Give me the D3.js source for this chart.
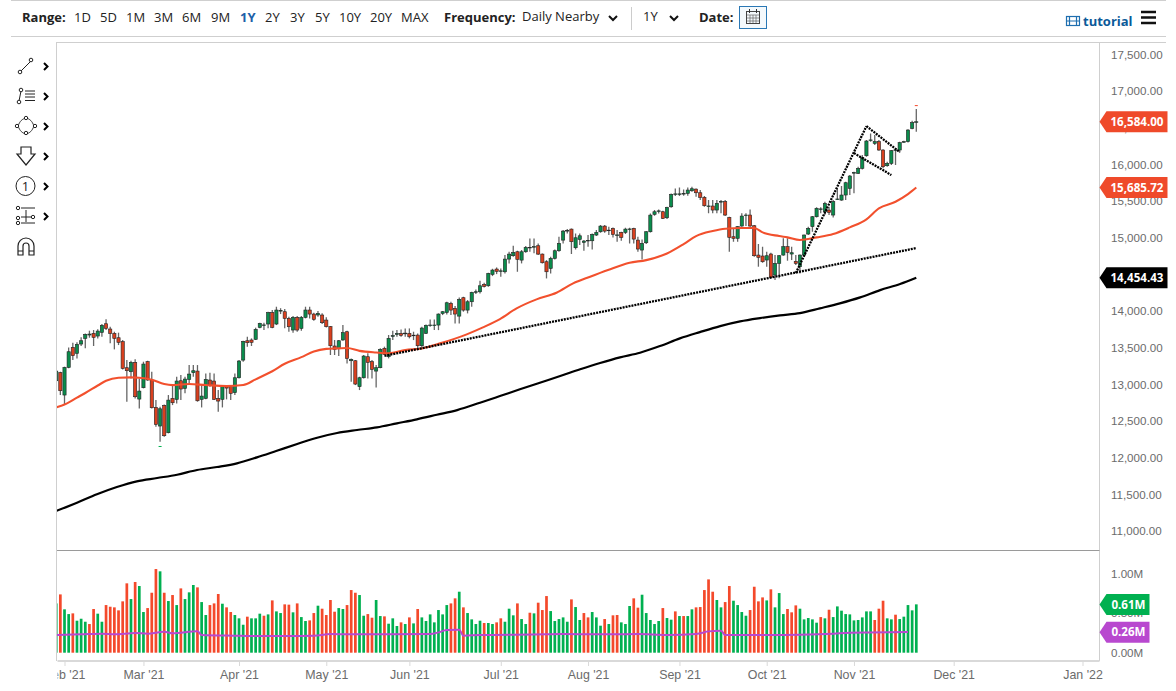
<!DOCTYPE html>
<html>
<head>
<meta charset="utf-8">
<script src="https://cdn.jsdelivr.net/npm/d3@7/dist/d3.min.js"></script>
<style>
  html, body { margin: 0; padding: 0; background: #fff; }
  svg { display: block; font-family: "Open Sans", "Noto Sans", sans-serif; }
  .axis text { fill: #6b6b6b; font-size: 11.6px; }
  .axis path, .axis line { stroke: #d9d9d9; }
  .months text { font-size: 12.4px; }
</style>
</head>
<body>
<svg id="chart" width="1176" height="691"></svg>
<script>
// daily candles, [open, high, low, close]
var ohlc = [
  [13050,13196,13041,13182],[13160,13173,12855,12914],[12855,13242,12732,13232],[13232,13505,13219,13446],[13505,13569,13332,13392],
  [13424,13574,13355,13546],[13551,13642,13524,13596],[13628,13696,13492,13683],[13674,13733,13637,13687],[13696,13742,13524,13642],
  [13660,13751,13628,13728],[13710,13824,13651,13806],[13828,13888,13742,13765],[13756,13787,13560,13696],[13696,13719,13478,13628],
  [13637,13706,13537,13574],[13583,13606,13205,13219],[13228,13332,12764,13187],[13173,13323,13082,13301],[13301,13342,12809,12832],
  [12800,13082,12673,12909],[12955,13310,12946,13278],[13310,13323,13050,13060],[13060,13173,12673,12682],[12686,12786,12422,12454],
  [12432,12695,12218,12668],[12714,12727,12286,12300],[12341,12855,12332,12786],[12809,12991,12718,12750],[12796,13105,12741,13046],
  [13050,13128,12786,12937],[12946,13105,12878,13073],[13069,13264,12991,13141],[13160,13264,13105,13187],[13182,13264,12764,12777],
  [12796,12991,12686,12841],[12809,13150,12796,13069],[13060,13160,12969,12991],[13046,13150,12787,12796],[12809,12923,12627,12773],
  [12796,12991,12686,12969],[12978,12991,12796,12950],[12969,12978,12786,12878],[12887,13150,12855,13091],[13091,13332,13082,13319],
  [13332,13596,13310,13587],[13596,13651,13515,13569],[13606,13628,13524,13574],[13615,13774,13606,13751],[13778,13842,13765,13833],
  [13808,13842,13742,13812],[13824,13992,13765,13979],[13979,14015,13765,13778],[13824,14060,13810,14015],[14000,14040,13960,14010],
  [13992,14030,13765,13901],[13901,13924,13720,13787],[13742,13933,13706,13915],[13915,13933,13719,13742],[13765,13933,13733,13915],
  [13915,14060,13901,14015],[14015,14060,13901,13960],[13960,13979,13869,13888],[13947,14001,13924,13970],[13947,13970,13824,13842],
  [13878,13915,13778,13788],[13788,13797,13401,13528],[13524,13606,13401,13478],[13492,13606,13387,13596],[13606,13810,13596,13706],
  [13719,13733,13287,13355],[13323,13355,13037,13342],[13323,13332,12991,13005],[12969,13105,12923,13091],[13091,13401,13082,13387],
  [13378,13424,13082,13301],[13310,13332,13082,13205],[13182,13264,12959,13228],[13228,13492,13219,13478],[13492,13515,13401,13410],
  [13378,13674,13355,13628],[13655,13732,13605,13665],[13682,13741,13650,13696],[13696,13750,13650,13669],[13690,13764,13650,13700],
  [13696,13764,13628,13650],[13668,13719,13605,13672],[13673,13696,13491,13528],[13528,13787,13491,13769],[13696,13819,13687,13805],
  [13805,13887,13787,13810],[13805,13887,13741,13810],[13810,13969,13741,13960],[13969,14001,13946,13992],[13982,14128,13955,14114],
  [14105,14128,13946,14014],[14037,14069,13832,13960],[13932,14187,13832,14160],[14183,14196,13992,14014],[14014,14151,13969,14128],
  [14128,14264,14060,14255],[14260,14296,14233,14265],[14264,14415,14242,14346],[14364,14387,14324,14337],[14346,14524,14333,14515],
  [14501,14578,14478,14560],[14574,14596,14505,14542],[14545,14583,14469,14550],[14537,14765,14515,14710],[14710,14810,14651,14778],
  [14756,14892,14742,14801],[14810,14824,14537,14706],[14696,14833,14651,14810],[14810,14887,14797,14869],[14865,14992,14810,14870],
  [14875,14992,14788,14880],[14892,14924,14765,14778],[14778,14787,14651,14660],[14674,14696,14446,14537],[14583,14742,14515,14719],
  [14719,14842,14706,14824],[14824,15015,14810,14924],[14969,15106,14924,15092],[15095,15119,15060,15100],[15119,15128,14778,14947],
  [14865,15060,14842,15001],[14978,15060,14901,15028],[14938,14969,14824,14956],[14960,15038,14878,14965],[14960,15060,14842,15047],
  [15038,15106,15024,15074],[15083,15174,15069,15160],[15160,15174,15069,15092],[15100,15151,15038,15105],[15128,15142,15006,15047],
  [15035,15106,14947,15040],[15074,15083,14960,15006],[15074,15138,15051,15119],[15117,15138,14924,15121],[15128,15138,14924,14983],
  [14969,15015,14810,14847],[14833,14978,14706,14924],[14933,15092,14915,15083],[15083,15333,15074,15310],[15320,15379,15301,15356],
  [15363,15388,15333,15368],[15356,15370,15256,15265],[15274,15424,15256,15415],[15424,15606,15410,15592],[15595,15674,15570,15600],
  [15595,15688,15570,15600],[15600,15661,15574,15605],[15606,15688,15574,15652],[15642,15697,15629,15670],[15665,15674,15561,15615],
  [15615,15652,15515,15552],[15552,15570,15424,15438],[15430,15515,15335,15435],[15434,15515,15335,15379],[15379,15515,15334,15470],
  [15490,15515,15334,15495],[15493,15515,15297,15311],[15279,15288,14811,15006],[15015,15129,14947,14993],[14993,15161,14947,15152],
  [15161,15334,15152,15297],[15307,15334,15161,15311],[15311,15388,15152,15161],[15165,15175,14742,14756],[14765,14915,14606,14733],
  [14752,14879,14660,14674],[14697,14811,14606,14756],[14779,14797,14447,14460],[14492,14765,14424,14652],[14652,14765,14447,14756],
  [14765,14993,14756,14879],[14879,14993,14688,14802],[14779,14879,14697,14797],[14679,14765,14629,14652],[14606,14774,14515,14765],
  [14765,15047,14742,15038],[15052,15152,15038,15129],[15152,15297,15084,15288],[15288,15416,15279,15402],[15390,15416,15334,15395],
  [15356,15493,15311,15470],[15379,15425,15311,15347],[15311,15515,15279,15493],[15525,15675,15515,15530],[15515,15707,15506,15584],
  [15584,15766,15515,15752],[15675,15857,15584,15843],[15885,15902,15607,15890],[15880,15970,15870,15948],[15948,16130,15934,16098],
  [16120,16334,16107,16321],[16332,16425,16312,16336],[16289,16402,16266,16312],[16312,16334,16189,16198],[16198,16207,15948,15970],
  [15984,16039,15970,16016],[16016,16198,15993,16189],[16195,16220,15993,16200],[16198,16312,16161,16298],[16308,16325,16298,16312],
  [16312,16480,16302,16471],[16493,16598,16480,16571],[16584,16757,16448,16584]
];

// volume in millions per candle
var volumes = [
  .624,.738,.549,.489,.498,.405,.430,.392,.363,.553,.494,.392,.603,.582,.574,.536,.650,.878,.679,.895,
  .844,.515,.565,.759,1.059,1.030,.759,.654,.730,.603,.814,.679,.764,.857,.827,.641,.477,.603,.624,.743,
  .620,.574,.515,.477,.435,.354,.456,.435,.435,.494,.468,.485,.662,.523,.502,.612,.608,.511,.624,.451,
  .401,.409,.502,.595,.557,.477,.667,.519,.565,.553,.603,.793,.759,.730,.468,.489,.443,.667,.464,.460,
  .367,.435,.338,.384,.363,.447,.371,.553,.447,.401,.485,.384,.540,.485,.603,.624,.688,.772,.574,.502,
  .422,.363,.405,.376,.376,.363,.384,.435,.392,.557,.473,.624,.426,.363,.506,.498,.633,.540,.717,.527,
  .401,.426,.447,.392,.675,.578,.414,.502,.447,.515,.447,.342,.426,.363,.473,.477,.384,.363,.591,.688,
  .570,.734,.502,.414,.363,.401,.565,.439,.418,.523,.464,.464,.464,.549,.574,.578,.793,.928,.772,.667,
  .574,.641,.844,.658,.603,.515,.468,.540,.835,.650,.700,.662,.802,.574,.755,.489,.553,.511,.599,.557,
  .422,.439,.422,.380,.451,.435,.544,.451,.586,.532,.489,.485,.409,.414,.447,.523,.523,.414,.557,.658,
  .435,.422,.481,.426,.456,.603,.536,.612
];
var volDirs = ("grggrgggrr" + "ggrrrrrrgr" + "ggrrrgrgrg" + "rgggrggrrr" + "grrgggrggg" +
               "rgrggrrgrg" + "grrgrrrrgg" + "rrrggrrggr" + "gggrgrgrgg" + "gggggrrgrg" +
               "gggrggrrgg" + "grggrgrrrg" + "ggggrggrrg" + "ggrgrrgggr" + "rgggggrggr" +
               "grggrrrrrg" + "grrggggrrr" + "rgrgggrrrg" + "ggggrgrggg" + "gggggggrrr" +
               "ggrggggg").split("");

// moving averages, read at some candles only
var ma50Idx = [0,2,5,7,10,12,15,18,20,23,26,28,32,36,41,45,48,52,55,59,62,65,68,70,73,77,80,84,88,92.4,98.8,102.7,106.8,110.8,115.6,120.4,124.4,128.5,132.8,138,142,147,151,154,158,161,165,168,170,174,176,179,183,187,191,195,198,202,205,207];
var ma50Val = [12686,12725,12820,12883,12985,13050,13091,13096,13091,13065,13005,12991,13005,12991,12978,12991,13069,13180,13282,13372,13450,13485,13492,13496,13458,13435,13424,13468,13491,13560,13683,13778,13892,14037,14160,14250,14378,14469,14560,14660,14696,14787,14915,15024,15093,15124,15134,15134,15074,15024,15006,14970,15006,15052,15143,15252,15402,15493,15597,15686];
var ma200Idx = [0,5,9.8,14.6,19.4,24.3,29.1,33.9,38.7,43.5,48.3,53.1,58,62.8,67.6,72.4,77.2,82,86.8,91.6,96.5,102,106.8,111.6,116.4,121.3,126.1,130.9,135.7,140.5,145.3,150.1,154.9,159.8,164.6,169.4,174.2,179,183.8,188.6,193.5,198.3,203.1,207];
var ma200Val = [11273,11386,11501,11600,11678,11723,11768,11832,11873,11923,12005,12095,12187,12273,12337,12378,12414,12469,12524,12586,12650,12750,12841,12933,13023,13114,13206,13292,13369,13432,13523,13628,13714,13796,13860,13905,13942,13973,14038,14106,14188,14287,14369,14454];
var volMaIdx = [0,6,11,14,19,22,26,28,34,35,43,47,55,62,66,71,80,90,92,94,97,98,102,118,121,134,140,147,154,155,157,160,161,171,179,187,191,205];
var volMaVal = [.224,.232,.241,.232,.249,.241,.266,.245,.270,.224,.215,.211,.211,.215,.236,.232,.232,.236,.257,.287,.291,.215,.224,.232,.236,.232,.236,.224,.236,.245,.270,.278,.224,.224,.228,.241,.253,.262];

// hand drawn trend lines on the chart, [idx, price, idx, price]
var trendLines = [
  [79,13390,207,14860],
  [178,14519,195,16524],
  [195,16524,203,16170],
  [192,16156,201,15856]
];

// high and low markers
var extremes = [{idx: 25, price: 12160, dir: "g"}, {idx: 207, price: 16811, dir: "r"}];

var monthIdx = [2,21,44,65,85,107,128,150,171,192,216,247];
var monthLabels = ["Feb '21","Mar '21","Apr '21","May '21","Jun '21","Jul '21","Aug '21","Sep '21","Oct '21","Nov '21","Dec '21","Jan '22"];
var priceTicks = [11000,11500,12000,12500,13000,13500,14000,14500,15000,15500,16000,16500,17000,17500];
var volTicks = [0,.5,1];

var priceTags = [{v: 16584, c: "#ef4a2a", t: "16,584.00"}, {v: 15685.72, c: "#ef4a2a", t: "15,685.72"}, {v: 14454.43, c: "#000", t: "14,454.43"}];
var volTags = [{v: .61, c: "#00b050", t: "0.61M"}, {v: .26, c: "#b848cf", t: "0.26M"}];

var rangeLabels = ["1D","5D","1M","3M","6M","9M","1Y","2Y","3Y","5Y","10Y","20Y","MAX"];
var rangeX = [74,100,126,154,182,211,240,265,290,315,339,370,401];

var GREEN = "#0a8c4c", RED = "#d9401f";
var VGREEN = "#00b050", VRED = "#f4492b";

var svg = d3.select("#chart");
var plotL = 57, plotR = 1099.5;

var x = d3.scaleLinear().domain([0, 247]).range([56.2, 1082.5]);
var y = d3.scaleLinear().domain([11000, 17500]).range([531, 54.6]);
var yv = d3.scaleLinear().domain([0, 1]).range([652.7, 573.7]);

var defs = svg.append("defs");
defs.append("clipPath").attr("id", "plot").append("rect")
  .attr("x", plotL).attr("y", 42).attr("width", plotR - plotL).attr("height", 618);
// in the coordinates of the translated month axis
defs.append("clipPath").attr("id", "xlabels").append("rect")
  .attr("x", plotL + .5).attr("y", -2).attr("width", plotR - plotL + 3).attr("height", 32);

// frame
///////////////////////////////////////////////
var frame = svg.append("g").attr("stroke", "#cfcfcf").attr("fill", "none");
frame.append("line").attr("x1", 11).attr("x2", 1166).attr("y1", .5).attr("y2", .5);
frame.append("line").attr("x1", 11).attr("x2", 1166).attr("y1", 36.5).attr("y2", 36.5);
frame.append("line").attr("x1", plotL).attr("x2", 1166).attr("y1", 42.5).attr("y2", 42.5);
frame.append("line").attr("x1", plotL - .5).attr("x2", plotL - .5).attr("y1", 42).attr("y2", 661);
frame.append("line").attr("x1", plotR).attr("x2", plotR).attr("y1", 42).attr("y2", 661);
frame.append("line").attr("x1", plotL).attr("x2", plotR).attr("y1", 550.5).attr("y2", 550.5).attr("stroke", "#9a9a9a");

// axes
///////////////////////////////////////////////
var priceAxis = svg.append("g").attr("class", "axis").attr("transform", "translate(" + plotR + ",0)")
  .call(d3.axisRight(y).tickValues(priceTicks).tickFormat(d3.format(",.2f")).tickSize(0).tickPadding(11.5));
priceAxis.select(".domain").remove();

var volAxis = svg.append("g").attr("class", "axis").attr("transform", "translate(" + plotR + ",0)")
  .call(d3.axisRight(yv).tickValues(volTicks).tickFormat(function(d){ return d.toFixed(2) + "M"; }).tickSize(0).tickPadding(11.5));
volAxis.select(".domain").remove();

var monthAxis = svg.append("g").attr("class", "axis months").attr("transform", "translate(0,661)")
  .attr("clip-path", "url(#xlabels)")
  .call(d3.axisBottom(x).tickValues(monthIdx).tickFormat(function(d, i){ return monthLabels[i]; }).tickSize(5).tickPadding(4.5));
monthAxis.select(".domain").attr("stroke-width", 2).attr("d", "M" + plotL + ",0H" + plotR);

// volume pane
///////////////////////////////////////////////
var plot = svg.append("g").attr("clip-path", "url(#plot)");

plot.append("g").selectAll("rect").data(volumes).join("rect")
  .attr("x", function(d, i){ return x(i) - 1.35; })
  .attr("width", 2.7)
  .attr("y", function(d){ return yv(d); })
  .attr("height", function(d){ return yv(0) - yv(d); })
  .attr("fill", function(d, i){ return volDirs[i] === "g" ? VGREEN : VRED; });

var lineOf = function(scale, idx, vals){
  return d3.line()
    .x(function(d){ return x(idx[d]); })
    .y(function(d){ return scale(vals[d]); })
    .curve(d3.curveMonotoneX)(d3.range(idx.length));
};

plot.append("path").attr("fill", "none").attr("stroke", "#b848cf").attr("stroke-width", 2)
  .attr("d", lineOf(yv, volMaIdx, volMaVal));

// candles
///////////////////////////////////////////////
var candle = plot.append("g").selectAll("g").data(ohlc).join("g");

candle.append("line")
  .attr("x1", function(d, i){ return x(i); })
  .attr("x2", function(d, i){ return x(i); })
  .attr("y1", function(d){ return y(d[1]); })
  .attr("y2", function(d){ return y(d[2]); })
  .attr("stroke", "#666").attr("stroke-width", 1.3);

candle.append("rect")
  .attr("x", function(d, i){ return x(i) - 1.6; })
  .attr("width", 3.2)
  .attr("y", function(d){ return y(Math.max(d[0], d[3])); })
  .attr("height", function(d){ return Math.max(.6, Math.abs(y(d[0]) - y(d[3]))); })
  .attr("fill", function(d){ return d[3] >= d[0] ? GREEN : RED; })
  .attr("stroke", "#222").attr("stroke-width", .6);

// moving averages
plot.append("path").attr("fill", "none").attr("stroke", "#f2502d").attr("stroke-width", 2.1)
  .attr("d", lineOf(y, ma50Idx, ma50Val));
plot.append("path").attr("fill", "none").attr("stroke", "#000").attr("stroke-width", 2.2)
  .attr("d", lineOf(y, ma200Idx, ma200Val));

// trend lines
plot.append("g").selectAll("line").data(trendLines).join("line")
  .attr("x1", function(d){ return x(d[0]); })
  .attr("y1", function(d){ return y(d[1]); })
  .attr("x2", function(d){ return x(d[2]); })
  .attr("y2", function(d){ return y(d[3]); })
  .attr("stroke", "#000").attr("stroke-width", 2.3).attr("stroke-dasharray", "2 1");

plot.append("g").selectAll("rect").data(extremes).join("rect")
  .attr("x", function(d){ return x(d.idx) - 1.5; })
  .attr("y", function(d){ return y(d.price); })
  .attr("width", 3).attr("height", 1)
  .attr("fill", function(d){ return d.dir === "g" ? VGREEN : VRED; });

// value tags on the right axis
///////////////////////////////////////////////
function drawTags(items, scale, w){
  var tag = svg.append("g").selectAll("g").data(items).join("g")
    .attr("transform", function(d){ return "translate(" + plotR + "," + scale(d.v) + ")"; });
  tag.append("path")
    .attr("d", "M0,0L7,-10.5H" + w + "V10.5H7Z")
    .attr("fill", function(d){ return d.c; });
  tag.append("text").attr("y", 4.2)
    .attr("x", w - 4).attr("text-anchor", "end")
    .attr("fill", "#fff").attr("font-size", 11.6).attr("font-weight", 700)
    .text(function(d){ return d.t; });
}
drawTags(priceTags, y, 68);
drawTags(volTags, yv, 50);

// toolbar
///////////////////////////////////////////////
var bar = svg.append("g").attr("font-size", 13).attr("fill", "#222");
bar.append("text").attr("x", 22).attr("y", 22).attr("font-weight", 700).text("Range:");
bar.selectAll(".rng").data(rangeLabels).join("text").attr("class", "rng")
  .attr("x", function(d, i){ return rangeX[i]; }).attr("y", 22)
  .attr("fill", function(d){ return d === "1Y" ? "#1d5fa8" : "#222"; })
  .attr("font-weight", function(d){ return d === "1Y" ? 700 : 400; })
  .text(function(d){ return d; });
bar.append("text").attr("x", 444).attr("y", 22).attr("font-weight", 700).text("Frequency:");
bar.append("text").attr("x", 522).attr("y", 21).text("Daily Nearby");
bar.append("text").attr("x", 643).attr("y", 21).text("1Y");
bar.append("text").attr("x", 699).attr("y", 22).attr("font-weight", 700).text("Date:");
bar.append("line").attr("x1", 631.5).attr("x2", 631.5).attr("y1", 7).attr("y2", 30).attr("stroke", "#ccc");

var chev = bar.append("g").attr("fill", "none").attr("stroke", "#111").attr("stroke-width", 2);
[613, 674].forEach(function(cx){
  chev.append("path").attr("d", "M" + (cx - 4) + ",16l4,4l4,-4");
});

// calendar button
var cal = svg.append("g").attr("fill", "none");
cal.append("rect").attr("x", 739.5).attr("y", 6.5).attr("width", 27).attr("height", 22).attr("stroke", "#2a78b5").attr("fill", "#f4f9fc");
cal.append("rect").attr("x", 746.5).attr("y", 11.5).attr("width", 13).attr("height", 12).attr("stroke", "#444");
cal.append("path").attr("d", "M747,15h12M747,18h12M747,21h12M750,15v8M753,15v8M756,15v8").attr("stroke", "#666").attr("stroke-width", .7);
cal.append("path").attr("d", "M749.5,9v4M756.5,9v4").attr("stroke", "#333");

// tutorial link and menu
var film = svg.append("g").attr("fill", "none").attr("stroke", "#1f6fb0").attr("stroke-width", 1.2);
film.append("rect").attr("x", 1066.5).attr("y", 16.5).attr("width", 13).attr("height", 9);
film.append("path").attr("d", "M1069.5,16.5v9M1076.5,16.5v9M1066.5,21h13");
svg.append("text").attr("x", 1083).attr("y", 26).attr("font-size", 13).attr("font-weight", 700).attr("fill", "#0b5a99").text("tutorial");
svg.append("path").attr("d", "M1141,12h15M1141,17.5h15M1141,23h15").attr("stroke", "#111").attr("stroke-width", 2.4);

// drawing tools on the left
///////////////////////////////////////////////
var tools = svg.append("g").attr("fill", "none").attr("stroke", "#222").attr("stroke-width", 1);
[66, 96, 126, 156, 186, 216].forEach(function(cy){
  tools.append("path").attr("d", "M44," + (cy - 3) + "l3.5,3.5l-3.5,3.5").attr("stroke", "#000").attr("stroke-width", 2);
});
tools.append("path").attr("d", "M21,71L31,61");
tools.append("circle").attr("cx", 20).attr("cy", 72).attr("r", 1.8).attr("fill", "#fff");
tools.append("circle").attr("cx", 31).attr("cy", 60).attr("r", 1.8).attr("fill", "#fff");
tools.append("path").attr("d", "M19,101L21,91");
tools.append("circle").attr("cx", 19).attr("cy", 102).attr("r", 1.8).attr("fill", "#fff");
tools.append("circle").attr("cx", 21).attr("cy", 90).attr("r", 1.8).attr("fill", "#fff");
tools.append("path").attr("d", "M25,91h10M25,94h10M25,97h10M25,100.5h10");
tools.append("path").attr("d", "M18,126C20,121 22,119 26,118C30,119 32,121 34,126C32,131 30,133 26,134C22,133 20,131 18,126Z").attr("stroke-width", .9);
[[17,126],[26,118],[35,126],[26,133]].forEach(function(p){
  tools.append("circle").attr("cx", p[0]).attr("cy", p[1]).attr("r", 1.7).attr("fill", "#fff");
});
tools.append("path").attr("d", "M21,147h10v7h4L26,165L17,154h4Z").attr("stroke-width", 1.2);
tools.append("circle").attr("cx", 25.5).attr("cy", 186).attr("r", 9.5);
svg.append("text").attr("x", 25.5).attr("y", 191).attr("text-anchor", "middle").attr("font-size", 13).attr("fill", "#222").text("1");
tools.append("path").attr("d", "M21,208h14M21,217h14M21,223h14M26,210v12");
[[18,208],[18,218],[18,223],[33,217]].forEach(function(p){
  tools.append("circle").attr("cx", p[0]).attr("cy", p[1]).attr("r", 1.7).attr("fill", "#fff");
});
tools.append("path").attr("d", "M18,255V246a8,8 0 0 1 16,0V255H29V246a3,3 0 0 0 -6,0V255ZM18,251h5M29,251h5").attr("stroke-width", 1.2);
</script>
</body>
</html>
